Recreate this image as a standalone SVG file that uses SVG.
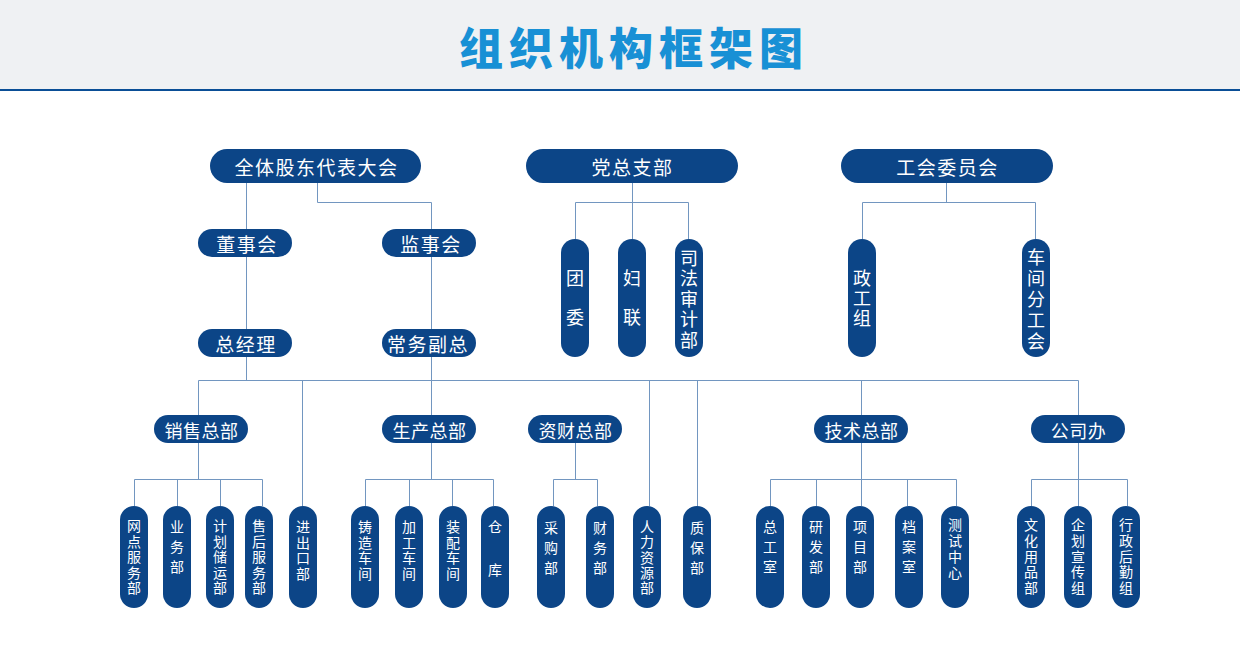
<svg xmlns="http://www.w3.org/2000/svg" width="1240" height="646" viewBox="0 0 1240 646">
<style>
.n{fill:#0c4587}
.t{fill:#fff;font-family:"Noto Sans CJK SC","Noto Sans",sans-serif;text-anchor:middle;dominant-baseline:central}
.t1{font-size:19px;letter-spacing:1.5px}
.t2{font-size:18px;letter-spacing:0.5px}
.v{writing-mode:vertical-rl}
.tv{font-size:18px}
.tb{font-size:14px}
.s5{letter-spacing:1.5px}
.s3{letter-spacing:6px}
.c{stroke:#7296c0;stroke-width:1;fill:none}
</style>
<rect x="0" y="0" width="1240" height="89" fill="#eff1f3"/>
<rect x="0" y="89" width="1240" height="2" fill="#0a4e96"/>
<text x="634" y="46" font-family="'Noto Sans CJK SC',sans-serif" font-weight="900" font-size="44" letter-spacing="6" fill="#1890d5" text-anchor="middle" dominant-baseline="central">组织机构框架图</text>

<g id="connectors">
<path class="c" d="M246.5 183V229M317.5 183V202.5H431.5V229M246.5 257V329M431.5 257V329"/>
<path class="c" d="M632.5 183V239M575.5 239V202.5H688.5V239M946.5 183V202.5M862.5 239V202.5H1035.5V239"/>
<path class="c" d="M246.5 357V380.5M198.5 415V380.5H1078.5V415M431.5 357V415M302.5 380V506M649.5 380V506M697.5 380V506M861.5 380V415"/>
<path class="c" d="M198.5 443V479.5M134.5 506V479.5H262.5V506M177.5 479V506M220.5 479V506"/>
<path class="c" d="M431.5 443V479.5M365.5 506V479.5H493.5V506M409.5 479V506M452.5 479V506"/>
<path class="c" d="M575.5 443V479.5M553.5 506V479.5H597.5V506"/>
<path class="c" d="M861.5 443V506M770.5 506V479.5H956.5V506M816.5 479V506M907.5 479V506"/>
<path class="c" d="M1078.5 443V506M1031.5 506V479.5H1127.5V506"/>
</g>

<g id="gudong"><rect class="n" x="210" y="149" width="211" height="34" rx="17"/><text class="t t1" x="316.5" y="166">全体股东代表大会</text></g>
<g id="dangzhibu"><rect class="n" x="526" y="149" width="212" height="34" rx="17"/><text class="t t1" x="632.5" y="166">党总支部</text></g>
<g id="gonghui"><rect class="n" x="841" y="149" width="212" height="34" rx="17"/><text class="t t1" x="947.5" y="166">工会委员会</text></g>

<g id="dongshihui"><rect class="n" x="198" y="229" width="94" height="28" rx="14"/><text class="t t1" x="247" y="243">董事会</text></g>
<g id="jianshihui"><rect class="n" x="382" y="229" width="94" height="28" rx="14"/><text class="t t1" x="431" y="243">监事会</text></g>
<g id="zongjingli"><rect class="n" x="198" y="329" width="94" height="28" rx="14"/><text class="t t1" x="246" y="343">总经理</text></g>
<g id="changwu"><rect class="n" x="382" y="329" width="94" height="28" rx="14"/><text class="t t1" x="428" y="343">常务副总</text></g>

<g id="tuanwei"><rect class="n" x="561" y="239" width="28" height="118" rx="14"/><text class="t tv v" x="575" y="308" letter-spacing="21">团委</text></g>
<g id="fulian"><rect class="n" x="618" y="239" width="28" height="118" rx="14"/><text class="t tv v" x="632" y="308" letter-spacing="21">妇联</text></g>
<g id="sifa"><rect class="n" x="675" y="239" width="28" height="118" rx="14"/><text class="t tv v" x="689" y="300" letter-spacing="2.5">司法审计部</text></g>
<g id="zhenggong"><rect class="n" x="848" y="239" width="28" height="118" rx="14"/><text class="t tv v" x="862" y="299" letter-spacing="2">政工组</text></g>
<g id="chejian"><rect class="n" x="1022" y="239" width="28" height="118" rx="14"/><text class="t tv v" x="1036" y="300.5" letter-spacing="3">车间分工会</text></g>

<g id="xiaoshou"><rect class="n" x="154" y="415" width="94" height="28" rx="14"/><text class="t t2" x="201.5" y="429.5">销售总部</text></g>
<g id="shengchan"><rect class="n" x="382" y="415" width="94" height="28" rx="14"/><text class="t t2" x="429.5" y="429.5">生产总部</text></g>
<g id="zicai"><rect class="n" x="528" y="415" width="94" height="28" rx="14"/><text class="t t2" x="575.5" y="429.5">资财总部</text></g>
<g id="jishu"><rect class="n" x="814" y="415" width="94" height="28" rx="14"/><text class="t t2" x="861.5" y="429.5">技术总部</text></g>
<g id="gongsiban"><rect class="n" x="1031" y="415" width="94" height="28" rx="14"/><text class="t t2" x="1078.5" y="429.5">公司办</text></g>

<g id="wangdian"><rect class="n" x="120" y="506" width="28" height="102" rx="14"/><text class="t tb v s5" x="134" y="557.75">网点服务部</text></g>
<g id="yewu"><rect class="n" x="163" y="506" width="28" height="102" rx="14"/><text class="t tb v s3" x="177" y="550">业务部</text></g>
<g id="jihua"><rect class="n" x="206" y="506" width="28" height="102" rx="14"/><text class="t tb v s5" x="220" y="557.75">计划储运部</text></g>
<g id="shouhou"><rect class="n" x="245" y="506" width="28" height="102" rx="14"/><text class="t tb v s5" x="259" y="557.75">售后服务部</text></g>
<g id="jinchukou"><rect class="n" x="289" y="506" width="28" height="102" rx="14"/><text class="t tb v s5" x="303" y="551">进出口部</text></g>
<g id="zhuzao"><rect class="n" x="351" y="506" width="28" height="102" rx="14"/><text class="t tb v s5" x="365" y="551">铸造车间</text></g>
<g id="jiagong"><rect class="n" x="395" y="506" width="28" height="102" rx="14"/><text class="t tb v s5" x="409" y="551">加工车间</text></g>
<g id="zhuangpei"><rect class="n" x="439" y="506" width="28" height="102" rx="14"/><text class="t tb v s5" x="453" y="551">装配车间</text></g>
<g id="cangku"><rect class="n" x="481" y="506" width="28" height="102" rx="14"/><text class="t tb v" x="495" y="563" letter-spacing="29">仓库</text></g>
<g id="caigou"><rect class="n" x="537" y="506" width="28" height="102" rx="14"/><text class="t tb v s3" x="551" y="551">采购部</text></g>
<g id="caiwu"><rect class="n" x="586" y="506" width="28" height="102" rx="14"/><text class="t tb v s3" x="600" y="551">财务部</text></g>
<g id="renli"><rect class="n" x="633" y="506" width="28" height="102" rx="14"/><text class="t tb v" x="647" y="558" letter-spacing="1.3">人力资源部</text></g>
<g id="zhibao"><rect class="n" x="683" y="506" width="28" height="102" rx="14"/><text class="t tb v s3" x="697" y="551">质保部</text></g>
<g id="zonggong"><rect class="n" x="756" y="506" width="28" height="102" rx="14"/><text class="t tb v s3" x="770" y="550">总工室</text></g>
<g id="yanfa"><rect class="n" x="802" y="506" width="28" height="102" rx="14"/><text class="t tb v s3" x="816" y="550">研发部</text></g>
<g id="xiangmu"><rect class="n" x="846" y="506" width="28" height="102" rx="14"/><text class="t tb v s3" x="860" y="550">项目部</text></g>
<g id="dangan"><rect class="n" x="895" y="506" width="28" height="102" rx="14"/><text class="t tb v s3" x="909" y="550">档案室</text></g>
<g id="ceshi"><rect class="n" x="941" y="506" width="28" height="102" rx="14"/><text class="t tb v" x="955" y="550" letter-spacing="2">测试中心</text></g>
<g id="wenhua"><rect class="n" x="1017" y="506" width="28" height="102" rx="14"/><text class="t tb v" x="1031" y="557.25" letter-spacing="1.7">文化用品部</text></g>
<g id="qihua"><rect class="n" x="1064" y="506" width="28" height="102" rx="14"/><text class="t tb v" x="1078" y="557.25" letter-spacing="1.7">企划宣传组</text></g>
<g id="xingzheng"><rect class="n" x="1112" y="506" width="28" height="102" rx="14"/><text class="t tb v" x="1126" y="557.25" letter-spacing="1.7">行政后勤组</text></g>
</svg>
